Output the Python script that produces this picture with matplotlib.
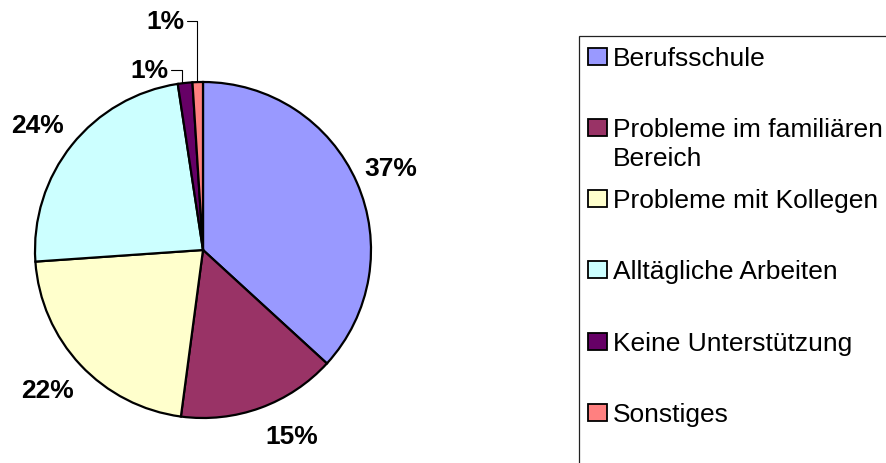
import matplotlib.pyplot as plt
from matplotlib.patches import Rectangle

# data
categories = ["Berufsschule", "Probleme im familiären Bereich", "Probleme mit Kollegen",
              "Alltägliche Arbeiten", "Keine Unterstützung", "Sonstiges"]
shares = [36.8, 15.3, 21.8, 23.7, 1.4, 1.0]
pct_labels = ["37%", "15%", "22%", "24%", "1%", "1%"]
legend_labels = ["Berufsschule", "Probleme im familiären\nBereich", "Probleme mit Kollegen",
                 "Alltägliche Arbeiten", "Keine Unterstützung", "Sonstiges"]
colors = ["#9999FF", "#993366", "#FFFFCC", "#CCFFFF", "#660066", "#FF8080"]

W, H = 887, 464
CX, CY, R = 203, 251, 168

plt.rcParams["font.family"] = ["Liberation Sans", "DejaVu Sans"]

fig = plt.figure(figsize=(W / 100, H / 100), dpi=100)
ax = fig.add_axes([0, 0, 1, 1])
ax.pie(shares, colors=colors, startangle=90, counterclock=False, radius=1,
       wedgeprops=dict(edgecolor="black", linewidth=1.6), frame=False)
ax.set_xlim(-CX / R, (W - CX) / R)
ax.set_ylim(-(H - CY) / R, CY / R)
ax.axis("off")


def px(x, y):
    # pixel position -> pie data units
    return (x - CX) / R, (CY - y) / R


# percentage labels (pixel positions of the label centres)
label_pos = [(391, 169), (292, 437.5), (47, 391), (38, 126), (149, 71), (165, 21.5)]
leader_to = [None, None, None, None, (181.5, 84), (196.5, 82)]

for lab, pos, tgt in zip(pct_labels, label_pos, leader_to):
    if tgt is None:
        ax.text(*px(*pos), lab, ha="center", va="center", fontsize=19, fontweight="bold")
    else:
        ax.annotate(lab, xy=px(*tgt), xytext=px(*pos), ha="center", va="center",
                    fontsize=19, fontweight="bold",
                    arrowprops=dict(arrowstyle="-", color="black", lw=0.8,
                                    shrinkA=0, shrinkB=0,
                                    connectionstyle="angle,angleA=0,angleB=90,rad=0"))

# legend box drawn by hand (it runs off the right and bottom edge)
fx = lambda x: x / W
fy = lambda y: 1 - y / H
box = Rectangle((fx(579.5), fy(H + 20)), fx(W + 20) - fx(579.5), fy(36.7) - fy(H + 20),
                transform=fig.transFigure, facecolor="none", edgecolor="#222222",
                linewidth=0.9, clip_on=False)
fig.add_artist(box)

step = 71.3
line_gap = 29
for i, (lab, c) in enumerate(zip(legend_labels, colors)):
    yc = 57 + i * step
    sq = Rectangle((fx(587.5), fy(yc + 8.5)), fx(19), 17 / H, transform=fig.transFigure,
                   facecolor=c, edgecolor="black", linewidth=1.3)
    fig.add_artist(sq)
    for k, line in enumerate(lab.split("\n")):
        fig.text(fx(613), fy(yc + 8.5 + k * line_gap), line, ha="left", va="baseline",
                 fontsize=19)

fig.savefig("out.png", dpi=100)
